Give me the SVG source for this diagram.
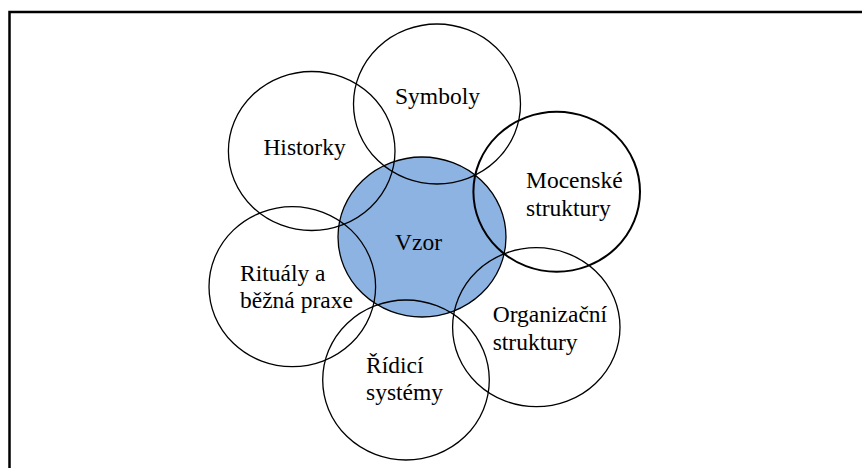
<svg xmlns="http://www.w3.org/2000/svg" width="862" height="468" viewBox="0 0 862 468">
  <style>
    .ring { fill: none; stroke: #000; stroke-width: 1.3; }
    .ring.bold { stroke-width: 2; }
    .core { fill: #8DB3E2; stroke: #000; stroke-width: 1.3; }
    text { font-family: 'Liberation Serif', 'Times New Roman', Times, serif; font-size: 23.5px; fill: #000; }
  </style>
  <rect width="862" height="468" fill="#fff"/>
  <!-- frame, running past the right and bottom edges -->
  <rect x="9.5" y="12" width="900" height="500" fill="none" stroke="#000" stroke-width="2.5"/>

  <g id="vzor">
    <ellipse class="core" cx="422" cy="237" rx="84" ry="80"/>
    <text x="395" y="250" font-family="Liberation Serif, serif">Vzor</text>
  </g>

  <g id="symboly">
    <ellipse class="ring" cx="437" cy="104" rx="83.5" ry="80"/>
    <text x="437.5" y="104.3" text-anchor="middle" font-family="Liberation Serif, serif">Symboly</text>
  </g>

  <g id="historky">
    <ellipse class="ring" cx="311.7" cy="151" rx="83.3" ry="79.5"/>
    <text x="304.5" y="155" text-anchor="middle" font-family="Liberation Serif, serif">Historky</text>
  </g>

  <g id="mocenske">
    <ellipse class="ring bold" cx="556.7" cy="191.7" rx="83.3" ry="80"/>
    <text x="526" y="187.7" font-family="Liberation Serif, serif">Mocenské</text>
    <text x="526" y="215.7" font-family="Liberation Serif, serif">struktury</text>
  </g>

  <g id="organizacni">
    <ellipse class="ring" cx="536.3" cy="327.2" rx="83.7" ry="79.5"/>
    <text x="492.7" y="322.3" font-family="Liberation Serif, serif">Organizační</text>
    <text x="492.7" y="350" font-family="Liberation Serif, serif">struktury</text>
  </g>

  <g id="ridici">
    <ellipse class="ring" cx="406" cy="380" rx="83.3" ry="80"/>
    <text x="366" y="373.3" font-family="Liberation Serif, serif">Řídicí</text>
    <text x="366" y="400" font-family="Liberation Serif, serif">systémy</text>
  </g>

  <g id="ritualy">
    <ellipse class="ring" cx="292.3" cy="286.7" rx="83.3" ry="80"/>
    <text x="240" y="281" font-family="Liberation Serif, serif">Rituály a</text>
    <text x="240" y="308.3" font-family="Liberation Serif, serif">běžná praxe</text>
  </g>

  <g id="connectors"/>
</svg>
